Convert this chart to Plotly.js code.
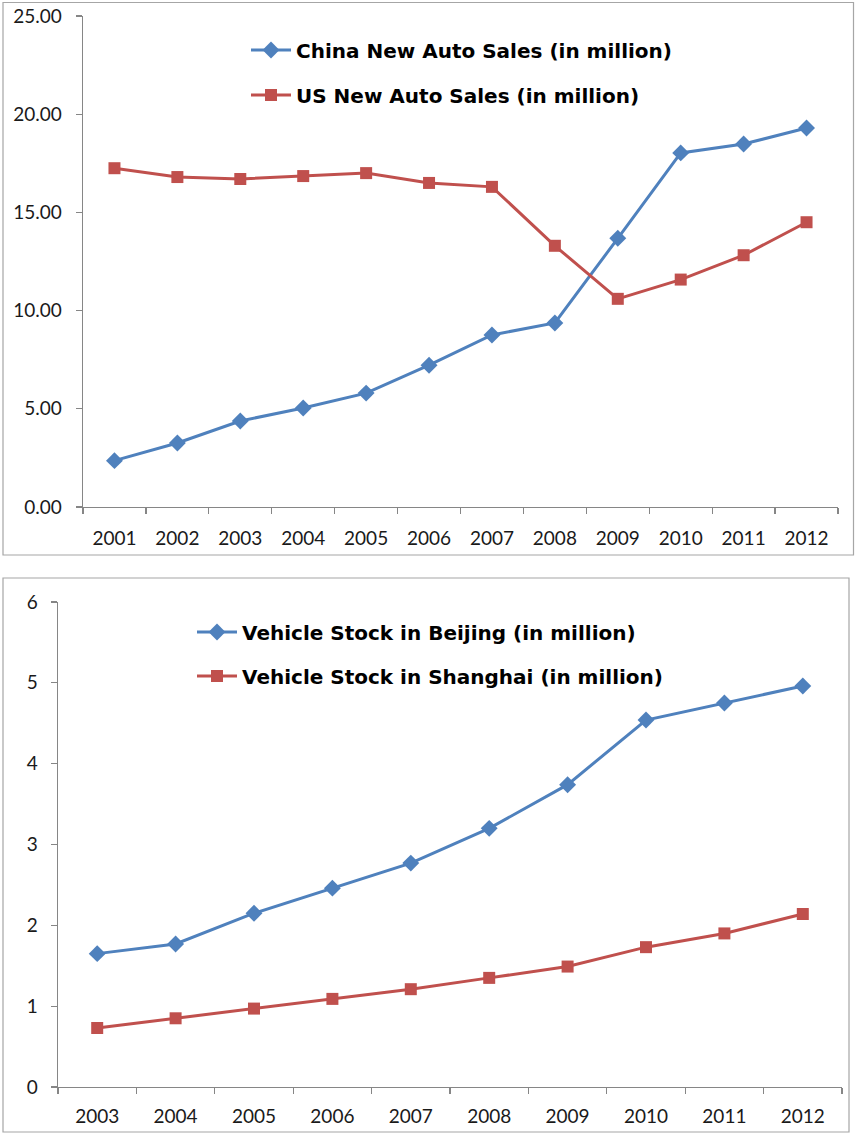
<!DOCTYPE html>
<html>
<head>
<meta charset="utf-8">
<script src="https://cdn.plot.ly/plotly-3.0.1.min.js"></script>
<style>
  html, body { margin: 0; padding: 0; background: #ffffff; }
  #chart { width: 855px; height: 1134px; }
</style>
</head>
<body>
<div id="chart"></div>
<script>
// ---- Data: top chart ----
const salesYears = ["2001","2002","2003","2004","2005","2006","2007","2008","2009","2010","2011","2012"];
const chinaSales = [2.36, 3.26, 4.38, 5.04, 5.80, 7.22, 8.76, 9.37, 13.68, 18.03, 18.48, 19.30];
const usSales    = [17.25, 16.80, 16.70, 16.85, 17.00, 16.50, 16.30, 13.30, 10.60, 11.58, 12.82, 14.50];
const chinaName = "China New Auto Sales (in million)";
const usName    = "US New Auto Sales (in million)";

// ---- Data: bottom chart ----
const stockYears = ["2003","2004","2005","2006","2007","2008","2009","2010","2011","2012"];
const beijingStock  = [1.65, 1.77, 2.15, 2.46, 2.77, 3.20, 3.74, 4.54, 4.75, 4.96];
const shanghaiStock = [0.73, 0.85, 0.97, 1.09, 1.21, 1.35, 1.49, 1.73, 1.90, 2.14];
const beijingName  = "Vehicle Stock in Beijing (in million)";
const shanghaiName = "Vehicle Stock in Shanghai (in million)";

const W = 855, H = 1134;
const px = v => v / W;
const py = v => 1 - v / H;

const BLUE = "#4F81BD", RED = "#C0504D", AXIS = "#868686", TXT = "#1a1a1a";
const FONT = "Lato, 'Open Sans', sans-serif";
const LFONT = "'DejaVu Sans', 'Open Sans', sans-serif";

function lineTrace(x, y, name, color, symbol, size, xa, ya, legend) {
  return {
    type: "scatter", mode: "lines+markers", x: x, y: y, name: name,
    xaxis: xa, yaxis: ya, legend: legend,
    line: { color: color, width: 3 },
    marker: { color: color, symbol: symbol, size: size },
    hoverinfo: "x+y+name"
  };
}

const data = [
  lineTrace(salesYears, chinaSales, chinaName, BLUE, "diamond", 13, "x", "y", "legend"),
  lineTrace(salesYears, usSales, usName, RED, "square", 12, "x", "y", "legend2"),
  lineTrace(stockYears, beijingStock, beijingName, BLUE, "diamond", 13, "x2", "y2", "legend3"),
  lineTrace(stockYears, shanghaiStock, shanghaiName, RED, "square", 12, "x2", "y2", "legend4")
];

const tickFont = { family: FONT, size: 19, color: TXT };
const legFont = { family: LFONT, size: 20, color: "#000", weight: "bold" };

function xAxis(domain, n, anchor, standoff) {
  return {
    domain: domain, anchor: anchor, type: "category",
    range: [-0.5, n - 0.5], fixedrange: true,
    showline: true, linecolor: AXIS, linewidth: 1.3,
    ticks: "outside", tickson: "boundaries", ticklen: 6, tickcolor: AXIS, tickwidth: 1.3,
    showgrid: false, zeroline: false,
    tickfont: tickFont, ticklabelstandoff: standoff
  };
}
function yAxis(domain, range, dtick, fmt, anchor, standoff) {
  return {
    domain: domain, anchor: anchor, range: range, fixedrange: true,
    dtick: dtick, tick0: 0, tickformat: fmt,
    showline: true, linecolor: AXIS, linewidth: 1.3,
    ticks: "outside", ticklen: 6, tickcolor: AXIS, tickwidth: 1.3,
    showgrid: false, zeroline: false,
    tickfont: tickFont, ticklabelstandoff: standoff
  };
}
function leg(xpix, ypix) {
  return {
    x: px(xpix), y: py(ypix), xref: "paper", yref: "paper",
    xanchor: "left", yanchor: "middle",
    font: legFont, bgcolor: "rgba(0,0,0,0)", borderwidth: 0,
    itemwidth: 40
  };
}

const layout = {
  width: W, height: H,
  margin: { l: 0, r: 0, t: 0, b: 0, pad: 0 },
  paper_bgcolor: "#ffffff", plot_bgcolor: "#ffffff",
  showlegend: true,
  xaxis:  xAxis([px(83), px(838)], salesYears.length, "y", 14),
  yaxis:  yAxis([py(507), py(16)], [0, 25], 5, ".2f", "x", 10),
  xaxis2: xAxis([px(58), px(842)], stockYears.length, "y2", 12),
  yaxis2: yAxis([py(1087), py(602)], [0, 6], 1, "d", "x2", 9),
  legend:  leg(246, 50),
  legend2: leg(246, 95),
  legend3: leg(192, 632),
  legend4: leg(192, 676),
  shapes: [
    { type: "rect", xref: "paper", yref: "paper", x0: px(3), x1: px(853.5), y0: py(555), y1: py(2.5),
      line: { color: "#a6a6a6", width: 1.2 }, fillcolor: "rgba(0,0,0,0)", layer: "below" },
    { type: "rect", xref: "paper", yref: "paper", x0: px(3), x1: px(849), y0: py(1132), y1: py(578),
      line: { color: "#a6a6a6", width: 1.2 }, fillcolor: "rgba(0,0,0,0)", layer: "below" }
  ]
};

Plotly.newPlot("chart", data, layout, { displayModeBar: false, staticPlot: true });
</script>
</body>
</html>
